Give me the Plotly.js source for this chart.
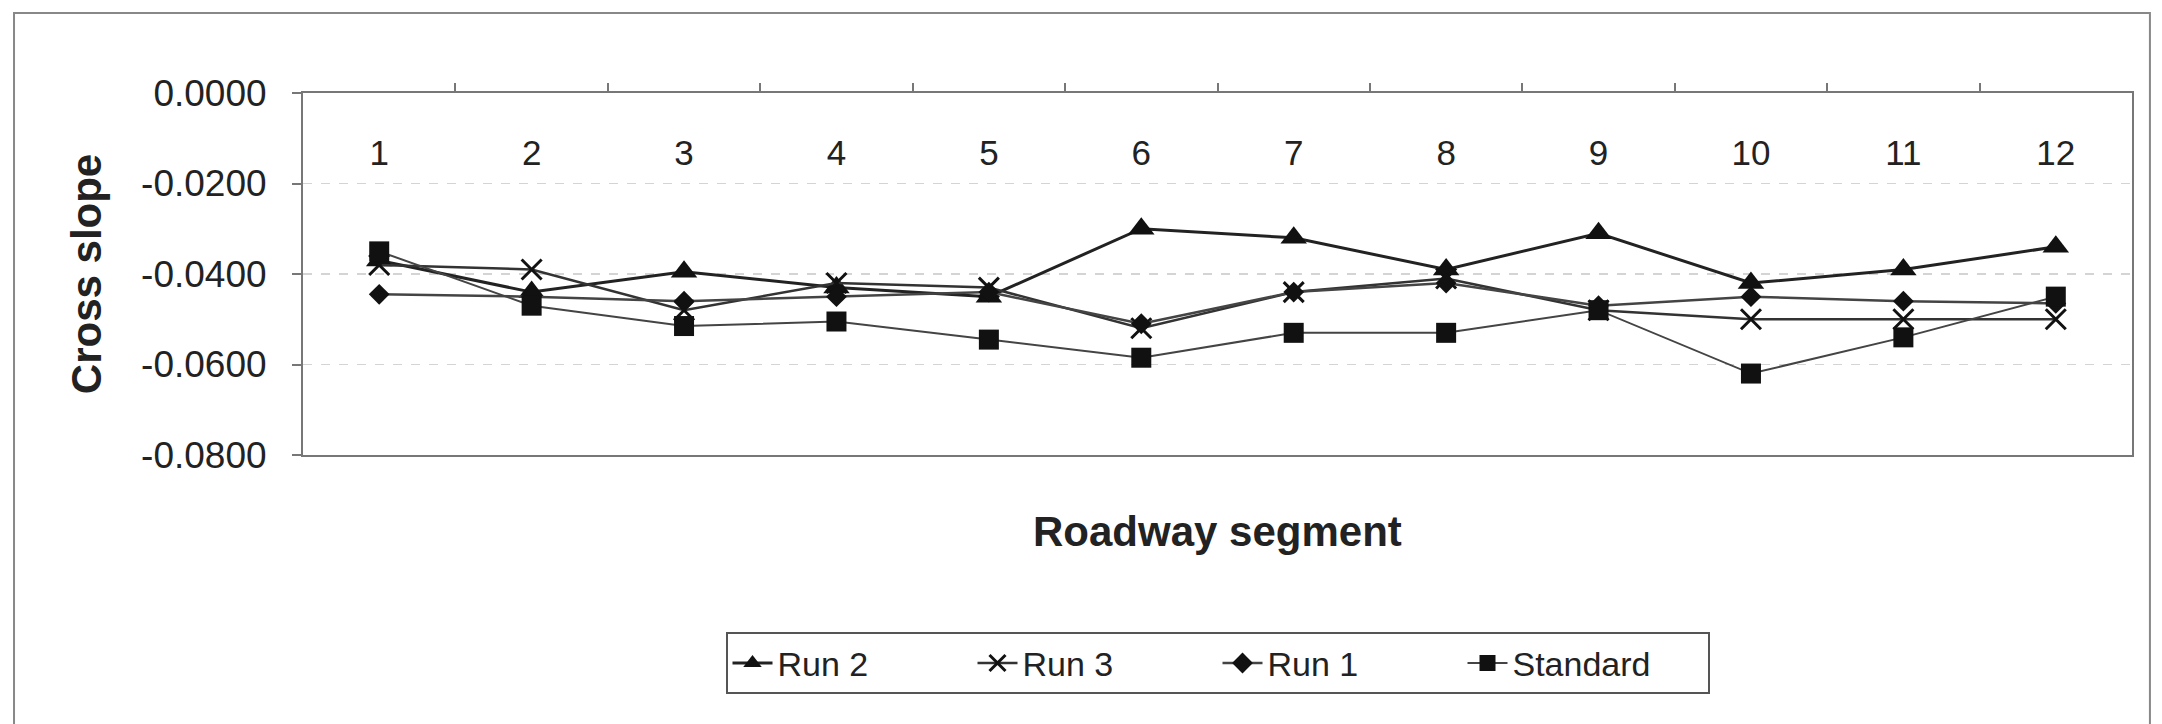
<!DOCTYPE html>
<html>
<head>
<meta charset="utf-8">
<script src="https://cdn.plot.ly/plotly-3.0.1.min.js"></script>
<style>html,body{margin:0;padding:0;background:#fff;}#chart{width:2162px;height:724px;}</style>
</head>
<body>
<div id="chart"></div>
<script>
var segments = [1,2,3,4,5,6,7,8,9,10,11,12];
var segmentLabels = ["1","2","3","4","5","6","7","8","9","10","11","12"];
var run2 = [-0.0370,-0.0440,-0.0395,-0.0430,-0.0450,-0.0300,-0.0320,-0.0390,-0.0310,-0.0420,-0.0390,-0.0340];
var run3 = [-0.0380,-0.0390,-0.0480,-0.0420,-0.0430,-0.0520,-0.0440,-0.0410,-0.0480,-0.0500,-0.0500,-0.0500];
var run1 = [-0.0445,-0.0450,-0.0460,-0.0450,-0.0440,-0.0510,-0.0440,-0.0420,-0.0470,-0.0450,-0.0460,-0.0465];
var standard = [-0.0350,-0.0470,-0.0515,-0.0505,-0.0545,-0.0585,-0.0530,-0.0530,-0.0480,-0.0620,-0.0540,-0.0450];
var yTickVals = [0, -0.02, -0.04, -0.06, -0.08];
var yTickText = ["0.0000","-0.0200","-0.0400","-0.0600","-0.0800"];
var boundaries = [1.5,2.5,3.5,4.5,5.5,6.5,7.5,8.5,9.5,10.5,11.5];

var FONT = "Liberation Sans, Arial, Helvetica, sans-serif";

var traces = [
  {x: segments, y: run2, name: "Run 2", type: "scatter", mode: "lines+markers",
   line: {color: "#222", width: 3}, marker: {symbol: "triangle-up", size: 23, color: "#111"}},
  {x: segments, y: run3, name: "Run 3", type: "scatter", mode: "lines+markers",
   line: {color: "#333", width: 2.5}, marker: {symbol: "x-thin-open", size: 20, color: "#111", line: {width: 3, color: "#111"}}},
  {x: segments, y: run1, name: "Run 1", type: "scatter", mode: "lines+markers",
   line: {color: "#444", width: 2.5}, marker: {symbol: "diamond", size: 16, color: "#111"}},
  {x: segments, y: standard, name: "Standard", type: "scatter", mode: "lines+markers",
   line: {color: "#444", width: 2}, marker: {symbol: "square", size: 20, color: "#111"}},
  // carrier for the category-label axis (no visible marks)
  {x: segments, y: segments.map(function(){return null;}), xaxis: "x2", yaxis: "y",
   type: "scatter", mode: "markers", showlegend: false, hoverinfo: "skip"}
];

var layout = {
  width: 2162, height: 724,
  margin: {l: 303, r: 30, t: 93, b: 269},
  paper_bgcolor: "#fff", plot_bgcolor: "#fff",
  font: {family: FONT, color: "#222", size: 34},
  showlegend: true,
  xaxis: {
    range: [0.5, 12.5], side: "top",
    tickmode: "array", tickvals: segments, showticklabels: false,
    ticks: "",
    showgrid: false, zeroline: false,
    showline: true, linecolor: "#777", linewidth: 2, mirror: true,
    minor: {tickmode: "array", tickvals: boundaries, ticks: "outside", ticklen: 8, tickcolor: "#777", tickwidth: 2, showgrid: false}
  },
  xaxis2: {
    overlaying: "x", range: [0.5, 12.5],
    anchor: "free", position: 0.9, side: "bottom",
    tickmode: "array", tickvals: segments, ticktext: segmentLabels,
    ticks: "", showline: false, showgrid: false, zeroline: false,
    tickfont: {size: 35, family: FONT, color: "#222"}
  },
  yaxis: {
    range: [-0.08, 0], tickmode: "array",
    tickvals: yTickVals, ticktext: yTickText,
    ticks: "outside", ticklen: 9, tickcolor: "#777", tickwidth: 2,
    ticklabelstandoff: 18,
    tickfont: {size: 37, family: FONT, color: "#222"},
    showgrid: true, gridcolor: "#d4d4d4", griddash: "dash", gridwidth: 1.5,
    zeroline: false,
    showline: true, linecolor: "#777", linewidth: 2, mirror: true,
    title: {text: "Cross slope", font: {size: 42, family: FONT, weight: "bold", color: "#222"}, standoff: 26}
  },
  legend: {
    orientation: "h", x: 0.5, xanchor: "center", y: -0.49, yanchor: "top",
    bordercolor: "#555", borderwidth: 2, bgcolor: "#fff",
    font: {size: 34, family: FONT, color: "#222"},
    entrywidth: 190, entrywidthmode: "pixels", itemwidth: 40,
    traceorder: "normal"
  },
  annotations: [
    {text: "Roadway segment", xref: "paper", yref: "paper", x: 0.5, y: -0.2127,
     xanchor: "center", yanchor: "middle", showarrow: false,
     font: {size: 42, family: FONT, weight: "bold", color: "#222"}}
  ],
  shapes: [
    {type: "rect", xref: "paper", yref: "paper", x0: -0.158, x1: 1.0098, y0: -0.78, y1: 1.221,
     line: {color: "#888", width: 2}, fillcolor: "rgba(0,0,0,0)", layer: "below"}
  ]
};

Plotly.newPlot("chart", traces, layout, {displayModeBar: false, staticPlot: true});
</script>
</body>
</html>
